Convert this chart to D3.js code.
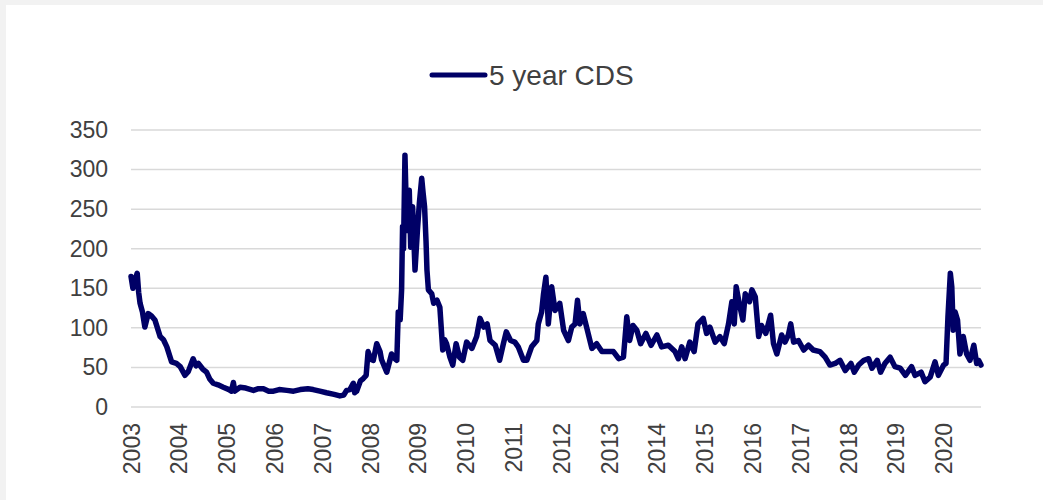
<!DOCTYPE html>
<html>
<head>
<meta charset="utf-8">
<script src="https://cdn.jsdelivr.net/npm/d3@7"></script>
<style>
  html, body { margin: 0; padding: 0; background: #f2f2f2; }
  svg { display: block; }
  text { font-family: "Liberation Sans", Arial, sans-serif; fill: #404040; }
</style>
</head>
<body>
<svg id="chart" width="1043" height="500"></svg>
<script>
// ---- data (decimal years and 5y CDS spread, bp) ----
const seriesName = "5 year CDS";
const years = [
  2003.00, 2003.04, 2003.08, 2003.13, 2003.16, 2003.19, 2003.24, 2003.29, 2003.36, 2003.43,
  2003.50, 2003.61, 2003.68, 2003.75, 2003.85, 2003.95, 2004.03, 2004.13, 2004.20, 2004.30,
  2004.36, 2004.41, 2004.50, 2004.58, 2004.65, 2004.72, 2004.82, 2004.93, 2005.05, 2005.10,
  2005.14, 2005.17, 2005.28, 2005.40, 2005.56, 2005.65, 2005.77, 2005.88, 2005.98, 2006.10,
  2006.26, 2006.40, 2006.54, 2006.70, 2006.81, 2006.95, 2007.09, 2007.25, 2007.37, 2007.45,
  2007.51, 2007.58, 2007.65, 2007.68, 2007.72, 2007.80, 2007.86, 2007.92, 2007.96, 2008.02,
  2008.07, 2008.14, 2008.21, 2008.24, 2008.35, 2008.45, 2008.50, 2008.56, 2008.59, 2008.63,
  2008.66, 2008.68, 2008.70, 2008.73, 2008.77, 2008.80, 2008.82, 2008.85, 2008.89, 2008.94,
  2008.99, 2009.03, 2009.08, 2009.11, 2009.14, 2009.17, 2009.19, 2009.22, 2009.29, 2009.33,
  2009.40, 2009.46, 2009.52, 2009.56, 2009.60, 2009.67, 2009.73, 2009.80, 2009.87, 2009.94,
  2010.02, 2010.13, 2010.23, 2010.30, 2010.38, 2010.45, 2010.51, 2010.62, 2010.71, 2010.79,
  2010.85, 2010.94, 2011.03, 2011.10, 2011.21, 2011.28, 2011.38, 2011.49, 2011.52, 2011.59,
  2011.63, 2011.68, 2011.73, 2011.80, 2011.87, 2011.97, 2012.05, 2012.15, 2012.22, 2012.29,
  2012.34, 2012.39, 2012.46, 2012.53, 2012.64, 2012.74, 2012.85, 2012.95, 2013.09, 2013.20,
  2013.30, 2013.37, 2013.43, 2013.50, 2013.58, 2013.66, 2013.77, 2013.88, 2014.00, 2014.10,
  2014.24, 2014.38, 2014.45, 2014.52, 2014.59, 2014.69, 2014.78, 2014.86, 2014.97, 2015.04,
  2015.11, 2015.22, 2015.32, 2015.41, 2015.50, 2015.57, 2015.62, 2015.66, 2015.73, 2015.80,
  2015.85, 2015.94, 2015.99, 2016.06, 2016.13, 2016.19, 2016.28, 2016.38, 2016.44, 2016.51,
  2016.61, 2016.68, 2016.75, 2016.80, 2016.86, 2016.96, 2017.07, 2017.17, 2017.27, 2017.41,
  2017.52, 2017.62, 2017.73, 2017.83, 2017.94, 2018.06, 2018.13, 2018.22, 2018.33, 2018.43,
  2018.50, 2018.61, 2018.68, 2018.77, 2018.88, 2018.98, 2019.09, 2019.20, 2019.33, 2019.40,
  2019.53, 2019.61, 2019.72, 2019.82, 2019.89, 2020.00, 2020.05, 2020.09, 2020.14, 2020.17,
  2020.20, 2020.24, 2020.29, 2020.34, 2020.41, 2020.48, 2020.55, 2020.63, 2020.69, 2020.73,
  2020.78
];
const cds = [
  165, 150, 160, 169, 145, 131, 120, 101, 118, 115,
  110, 89, 85, 76, 57, 55, 51, 40, 45, 61,
  52, 55, 48, 44, 35, 30, 28, 25, 22, 20,
  31, 20, 25, 24, 21, 23, 23, 20, 20, 22,
  21, 20, 22, 23, 22, 20, 18, 16, 14, 15,
  21, 22, 30, 18, 20, 33, 36, 40, 70, 60,
  59, 80, 70, 60, 44, 67, 62, 59, 120, 110,
  148, 228, 200, 318, 223, 260, 274, 202, 253, 173,
  223, 257, 289, 270, 253, 210, 173, 148, 143, 131,
  135, 126, 72, 85, 80, 63, 53, 80, 63, 59,
  82, 74, 89, 112, 101, 105, 84, 78, 59, 80,
  95, 84, 82, 76, 59, 59, 76, 84, 105, 120,
  143, 164, 105, 152, 122, 131, 97, 84, 101, 105,
  135, 105, 118, 101, 74, 80, 70, 70, 70, 61,
  63, 114, 84, 103, 97, 80, 93, 78, 91, 76,
  78, 70, 61, 76, 61, 82, 70, 105, 112, 93,
  101, 82, 89, 80, 105, 133, 105, 152, 129, 110,
  143, 133, 148, 139, 89, 103, 93, 116, 80, 67,
  91, 82, 91, 105, 82, 84, 72, 78, 72, 70,
  63, 53, 55, 59, 46, 55, 44, 53, 59, 61,
  49, 59, 44, 55, 63, 51, 49, 40, 51, 40,
  44, 32, 38, 57, 40, 53, 55, 114, 169, 152,
  97, 120, 110, 67, 89, 67, 59, 78, 55, 59,
  53
];
const yTicks = [0, 50, 100, 150, 200, 250, 300, 350];
const xTickYears = [2003, 2004, 2005, 2006, 2007, 2008, 2009, 2010, 2011, 2012,
                    2013, 2014, 2015, 2016, 2017, 2018, 2019, 2020];
const xStart = 2003.0, xEnd = 2020.78;

// ---- helpers ----
function yearToDate(y) {
  const yr = Math.floor(y);
  const a = new Date(yr, 0, 1), b = new Date(yr + 1, 0, 1);
  return new Date(a.getTime() + (y - yr) * (b - a));
}
const data = years.map((y, i) => ({ date: yearToDate(y), value: cds[i] }));

// ---- layout ----
const svg = d3.select("#chart");
svg.append("rect").attr("x", 6).attr("y", 5).attr("width", 1043 - 6).attr("height", 500 - 5).attr("fill", "#ffffff");

const plot = { left: 131, right: 981, top: 130, bottom: 407 };
const x = d3.scaleTime().domain([yearToDate(xStart), yearToDate(xEnd)]).range([plot.left, plot.right]);
const y = d3.scaleLinear().domain([0, 350]).range([plot.bottom, plot.top]);

// gridlines
svg.append("g")
  .selectAll("line").data(yTicks).join("line")
  .attr("x1", plot.left).attr("x2", plot.right)
  .attr("y1", d => y(d)).attr("y2", d => y(d))
  .attr("stroke", "#d9d9d9").attr("stroke-width", 1.5);

// y axis labels
const yAxis = d3.axisLeft(y).tickValues(yTicks).tickSize(0).tickPadding(23);
const gy = svg.append("g").attr("transform", `translate(${plot.left},0)`).call(yAxis);
gy.select(".domain").remove();
gy.selectAll("text").attr("font-size", 23).attr("fill", "#404040")
  .style("font-family", '"Liberation Sans", Arial, sans-serif');

// x axis labels
const xAxis = d3.axisBottom(x).tickValues(xTickYears.map(d => new Date(d, 0, 1)))
  .tickFormat(d3.timeFormat("%Y")).tickSize(0);
const gx = svg.append("g").attr("transform", `translate(0,${plot.bottom})`).call(xAxis);
gx.select(".domain").remove();
gx.selectAll("text")
  .attr("font-size", 23).attr("fill", "#404040")
  .style("font-family", '"Liberation Sans", Arial, sans-serif')
  .attr("transform", "rotate(-90)")
  .attr("text-anchor", "end")
  .attr("x", -16).attr("y", 0).attr("dy", "0.35em");

// line
const line = d3.line().x(d => x(d.date)).y(d => y(d.value));
svg.append("path").datum(data)
  .attr("d", line)
  .attr("fill", "none")
  .attr("stroke", "#000066")
  .attr("stroke-width", 5.5)
  .attr("stroke-linejoin", "round")
  .attr("stroke-linecap", "round");

// legend
const lg = svg.append("g");
lg.append("line").attr("x1", 432).attr("x2", 485).attr("y1", 75).attr("y2", 75)
  .attr("stroke", "#000066").attr("stroke-width", 5).attr("stroke-linecap", "round");
lg.append("text").attr("x", 489).attr("y", 85).attr("font-size", 28).attr("fill", "#404040").text(seriesName);
</script>
</body>
</html>
